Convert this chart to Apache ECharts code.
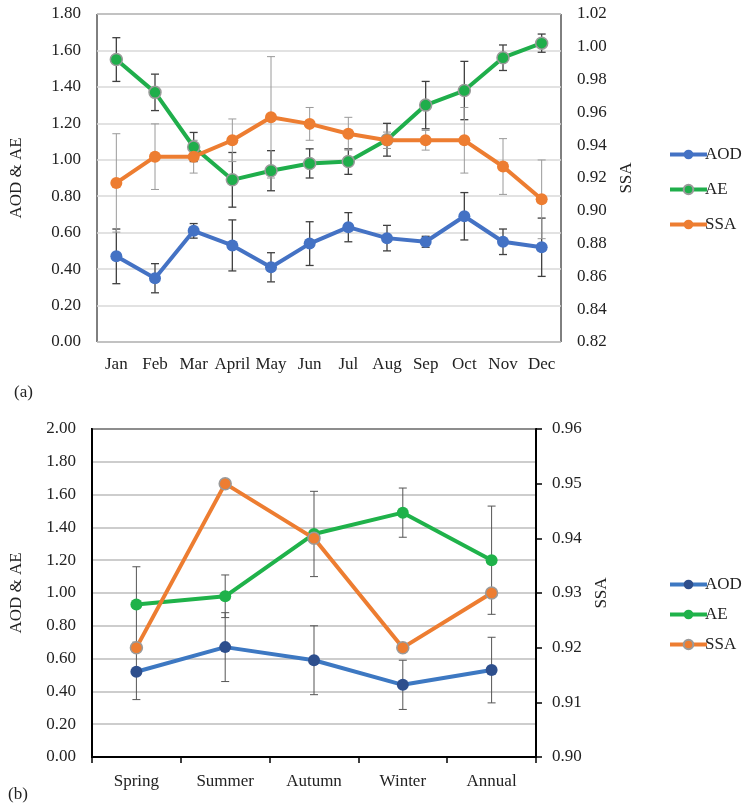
<!DOCTYPE html>
<html>
<head>
<meta charset="utf-8">
<script src="https://cdn.jsdelivr.net/npm/echarts@6/dist/echarts.min.js"></script>
<style>html,body{margin:0;padding:0;background:#fff}#c{width:749px;height:809px}</style>
</head>
<body>
<div id="c"></div>
<script>
// ---- Panel (a): monthly ----
const months = ['Jan','Feb','Mar','April','May','Jun','Jul','Aug','Sep','Oct','Nov','Dec'];
const aodM    = [0.47,0.35,0.61,0.53,0.41,0.54,0.63,0.57,0.55,0.69,0.55,0.52];
const aodMErr = [0.15,0.08,0.04,0.14,0.08,0.12,0.08,0.07,0.03,0.13,0.07,0.16];
const aeM     = [1.55,1.37,1.07,0.89,0.94,0.98,0.99,1.11,1.30,1.38,1.56,1.64];
const aeMErr  = [0.12,0.10,0.08,0.15,0.11,0.08,0.07,0.09,0.13,0.16,0.07,0.05];
const ssaM    = [0.917,0.933,0.933,0.943,0.957,0.953,0.947,0.943,0.943,0.943,0.927,0.907];
const ssaMErr = [0.030,0.020,0.010,0.013,0.037,0.010,0.010,0.005,0.006,0.020,0.017,0.024];
// ---- Panel (b): seasonal ----
const seasons = ['Spring','Summer','Autumn','Winter','Annual'];
const aodS    = [0.52,0.67,0.59,0.44,0.53];
const aodSErr = [0.17,0.21,0.21,0.15,0.20];
const aeS     = [0.93,0.98,1.36,1.49,1.20];
const aeSErr  = [0.23,0.13,0.26,0.15,0.33];
const ssaS    = [0.92,0.95,0.94,0.92,0.93];
// ---- axis ticks ----
const leftA  = {min:0, max:1.8, interval:0.2};
const rightA = {min:0.82, max:1.02, interval:0.02};
const leftB  = {min:0, max:2.0, interval:0.2};
const rightB = {min:0.90, max:0.96, interval:0.01};

const FONT = '"Liberation Serif","Times New Roman",serif';
const errData = (v, e) => v.map((d,i)=>[i, d-e[i], d+e[i]]);

function errSeries(data, xi, yi, color, w, cap, z){
  return {
    type:'custom', xAxisIndex:xi, yAxisIndex:yi, z:z, silent:true,
    encode:{x:0, y:[1,2]},
    data:data,
    renderItem:function(params, api){
      const x = api.value(0);
      const p1 = api.coord([x, api.value(2)]);
      const p2 = api.coord([x, api.value(1)]);
      const st = {stroke:color, lineWidth:w};
      return {type:'group', children:[
        {type:'line', shape:{x1:p1[0],y1:p1[1],x2:p2[0],y2:p2[1]}, style:st},
        {type:'line', shape:{x1:p1[0]-cap,y1:p1[1],x2:p1[0]+cap,y2:p1[1]}, style:st},
        {type:'line', shape:{x1:p2[0]-cap,y1:p2[1],x2:p2[0]+cap,y2:p2[1]}, style:st}
      ]};
    }
  };
}
function lineSeries(name, data, xi, yi, color, mColor, border, z){
  return {
    type:'line', name:name, data:data, xAxisIndex:xi, yAxisIndex:yi, z:z,
    symbol:'circle', symbolSize:12,
    lineStyle:{color:color, width:4},
    itemStyle:{color:mColor, borderColor:border||mColor, borderWidth:border?1.5:0},
    emphasis:{disabled:true}, animation:false
  };
}
const axisLbl = {fontFamily:FONT, fontSize:17, color:'#222'};
function valAxis(grid, ax, pos, split, splitColor, nm, gap, tick, line){
  return {
    type:'value', gridIndex:grid, position:pos, min:ax.min, max:ax.max, interval:ax.interval,
    name:nm, nameLocation:'middle', nameRotate:90, nameGap:gap,
    nameTextStyle:{fontFamily:FONT, fontSize:17, color:'#222'},
    axisLabel:Object.assign({margin:16, formatter:v=>v.toFixed(2)}, axisLbl),
    axisLine:{show:line, lineStyle:{color:'#000', width:2}},
    axisTick:{show:tick, length:6, lineStyle:{color:'#000', width:1.5}},
    splitLine:{show:split, lineStyle:{color:splitColor, width:1.5}}
  };
}

const chart = echarts.init(document.getElementById('c'), null, {renderer:'canvas'});
chart.setOption({
  backgroundColor:'#fff',
  animation:false,
  grid:[
    {left:93, top:14, width:468, height:328, show:true, borderColor:'#000', borderWidth:1, backgroundColor:'transparent'},
    {left:90, top:429, width:446, height:328, show:true, borderColor:'#000', borderWidth:2, backgroundColor:'transparent'}
  ],
  xAxis:[
    {type:'category', gridIndex:0, data:months, boundaryGap:true,
     axisLine:{show:false}, axisTick:{show:false},
     axisLabel:Object.assign({margin:14, interval:0}, axisLbl)},
    {type:'category', gridIndex:1, data:seasons, boundaryGap:true,
     axisLine:{show:true, lineStyle:{color:'#000', width:2}},
     axisTick:{show:true, length:6, lineStyle:{color:'#000', width:1.5}},
     axisLabel:Object.assign({margin:16, interval:0}, axisLbl)}
  ],
  yAxis:[
    valAxis(0, leftA, 'left', true, '#d9d9d9', 'AOD & AE', 72, false, false),
    valAxis(0, rightA, 'right', false, '#d9d9d9', 'SSA', 54, false, false),
    valAxis(1, leftB, 'left', true, '#bdbdbd', 'AOD & AE', 67, false, true),
    valAxis(1, rightB, 'right', false, '#bdbdbd', 'SSA', 57, true, true)
  ],
  legend:[
    {orient:'vertical', left:663, top:141, itemWidth:37, itemHeight:12, itemGap:18,
     lineStyle:{width:4},
     data:['AOD','AE','SSA'], textStyle:{fontFamily:FONT, fontSize:17, color:'#222', padding:[0,0,0,-7]}},
    {orient:'vertical', left:663, top:571, itemWidth:37, itemHeight:12, itemGap:13,
     lineStyle:{width:4},
     data:['AOD (b)','AE (b)','SSA (b)'], formatter:n=>n.replace(' (b)',''),
     textStyle:{fontFamily:FONT, fontSize:17, color:'#222', padding:[0,0,0,-7]}}
  ],
  graphic:[
    {type:'text', left:14, top:384, style:{text:'(a)', font:'17px '+FONT, fill:'#222'}},
    {type:'text', left:8, top:786, style:{text:'(b)', font:'17px '+FONT, fill:'#222'}}
  ],
  series:[
    errSeries(errData(aodM, aodMErr), 0, 0, '#404040', 1.3, 4, 2),
    errSeries(errData(aeM, aeMErr), 0, 0, '#404040', 1.3, 4, 2),
    errSeries(errData(ssaM, ssaMErr), 0, 1, '#9a9a9a', 1, 4, 2),
    lineSeries('AOD', aodM, 0, 0, '#4472c4', '#4472c4', null, 3),
    lineSeries('AE', aeM, 0, 0, '#1fae4b', '#1fae4b', '#9a9a9a', 4),
    lineSeries('SSA', ssaM, 0, 1, '#ed7d31', '#ed7d31', null, 5),

    errSeries(errData(aodS, aodSErr), 1, 2, '#555', 1, 4, 2),
    errSeries(errData(aeS, aeSErr), 1, 2, '#555', 1, 4, 2),
    lineSeries('AOD (b)', aodS, 1, 2, '#3d78c2', '#2e4f8d', null, 3),
    lineSeries('AE (b)', aeS, 1, 2, '#1fb24a', '#1fb24a', null, 4),
    lineSeries('SSA (b)', ssaS, 1, 3, '#ed7d31', '#ed7d31', '#9a9a9a', 5)
  ]
});
</script>
</body>
</html>
